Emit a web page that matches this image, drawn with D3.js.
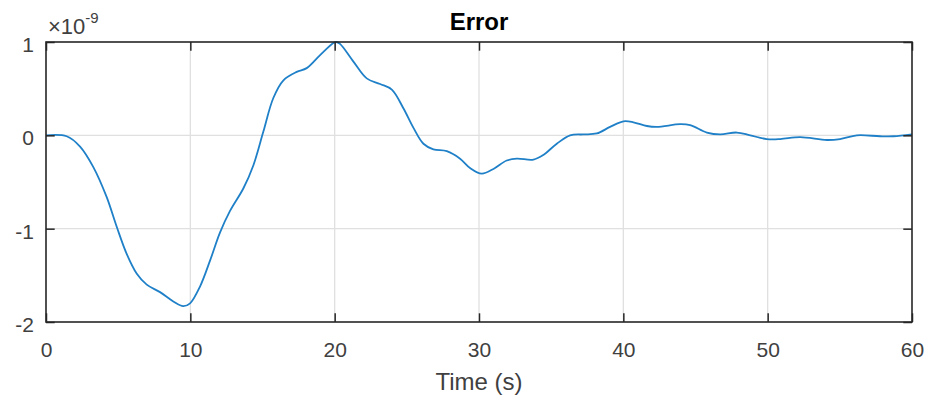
<!DOCTYPE html>
<html>
<head>
<meta charset="utf-8">
<script src="https://cdn.jsdelivr.net/npm/d3@7"></script>
<style>
    body { margin: 0; background: #fff; }
    text { font-family: "Liberation Sans", Arial, Helvetica, sans-serif; }
</style>
</head>
<body>
<div id="chart"></div>
<script>
// Error signal (values in units of 1e-9)
var time = [0, 1.43, 2.36, 3.28, 4.2, 4.9, 5.59, 6.28, 6.98, 7.9, 8.82, 9.51, 9.98, 10.67, 11.37,
    12.06, 12.75, 13.67, 14.37, 15.06, 15.75, 16.45, 17.37, 18.06, 18.99, 19.91, 20.1, 20.37, 21.3,
    22.22, 23.15, 23.96, 24.76, 25.46, 26.15, 26.84, 27.77, 28.69, 29.38, 30.19, 31.0, 31.92, 32.62,
    33.77, 34.46, 35.39, 36.31, 37.23, 38.16, 39.08, 40.01, 40.7, 41.63, 42.32, 43.94, 44.63, 45.79,
    46.71, 47.86, 48.79, 49.94, 50.87, 52.25, 54.1, 55.02, 56.18, 57.79, 58.72, 60];
var error = [0, -0.01, -0.12, -0.34, -0.66, -0.98, -1.27, -1.48, -1.60, -1.68, -1.78, -1.83, -1.80,
    -1.62, -1.34, -1.04, -0.81, -0.57, -0.32, 0.04, 0.40, 0.59, 0.68, 0.72, 0.86, 0.99, 1.0, 0.98,
    0.79, 0.61, 0.55, 0.49, 0.29, 0.08, -0.09, -0.15, -0.17, -0.25, -0.35, -0.41, -0.36, -0.27,
    -0.25, -0.26, -0.21, -0.09, 0.0, 0.01, 0.02, 0.09, 0.15, 0.14, 0.10, 0.09, 0.12, 0.11, 0.03,
    0.01, 0.03, 0.0, -0.04, -0.04, -0.02, -0.05, -0.04, 0.0, -0.01, -0.01, 0.01];

var xTicks = [0, 10, 20, 30, 40, 50, 60];
var yTicks = [-2, -1, 0, 1];

var titleText = "Error";
var xLabelText = "Time (s)";

var margin = { top: 42, right: 15, bottom: 77, left: 46 };
var width = 927 - margin.left - margin.right;
var height = 399 - margin.top - margin.bottom;
var tickLen = 8.7;
var axisColor = "#262626";

var svg = d3.select("#chart").append("svg")
    .attr("width", 927)
    .attr("height", 399)
    .append("g")
    .attr("transform", "translate(" + margin.left + "," + margin.top + ")");

// Scales
var x = d3.scaleLinear().domain([0, 60]).range([0, width]);
var y = d3.scaleLinear().domain([-2, 1]).range([height, 0]);

// Grid lines
svg.append("g").selectAll("line")
    .data(xTicks.slice(1, -1))
    .enter().append("line")
    .attr("x1", function(d) { return x(d); })
    .attr("x2", function(d) { return x(d); })
    .attr("y1", 0).attr("y2", height)
    .attr("stroke", "#e0e0e0").attr("stroke-width", 1.3);

svg.append("g").selectAll("line")
    .data(yTicks.slice(1, -1))
    .enter().append("line")
    .attr("y1", function(d) { return y(d); })
    .attr("y2", function(d) { return y(d); })
    .attr("x1", 0).attr("x2", width)
    .attr("stroke", "#e0e0e0").attr("stroke-width", 1.3);

// Data line
var line = d3.line()
    .x(function(d, i) { return x(time[i]); })
    .y(function(d) { return y(d); })
    .curve(d3.curveCatmullRom.alpha(0.5));

svg.append("path")
    .datum(error)
    .attr("d", line)
    .attr("fill", "none")
    .attr("stroke", "#1f80c8")
    .attr("stroke-width", 1.8);

// Axes (ticks point inward, like MATLAB); plain hyphen for negatives
var fmt = function(d) { return String(d); };
var xAxis = d3.axisBottom(x).tickValues(xTicks).tickFormat(fmt).tickSizeInner(-tickLen).tickSizeOuter(0).tickPadding(20);
var yAxis = d3.axisLeft(y).tickValues(yTicks).tickFormat(fmt).tickSizeInner(-tickLen).tickSizeOuter(0).tickPadding(12);

var gx = svg.append("g").attr("transform", "translate(0," + height + ")").call(xAxis);
var gy = svg.append("g").call(yAxis);
var gxTop = svg.append("g").call(d3.axisTop(x).tickValues(xTicks).tickSizeInner(-tickLen).tickSizeOuter(0).tickFormat(""));
var gyRight = svg.append("g").attr("transform", "translate(" + width + ",0)")
    .call(d3.axisRight(y).tickValues(yTicks).tickSizeInner(-tickLen).tickSizeOuter(0).tickFormat(""));

[gx, gy, gxTop, gyRight].forEach(function(g) {
    g.select(".domain").remove();
    g.selectAll(".tick line").attr("stroke", axisColor).attr("stroke-width", 1.5);
    g.selectAll(".tick text")
        .attr("fill", "#404040")
        .style("font-size", "21px")
        .style("font-family", "'Liberation Sans', Arial, sans-serif");
});
gy.selectAll(".tick text").attr("dy", "0.45em");

// Box
svg.append("rect")
    .attr("x", 0).attr("y", 0)
    .attr("width", width).attr("height", height)
    .attr("fill", "none")
    .attr("stroke", axisColor)
    .attr("stroke-width", 1.6);

// Exponent label
var expo = svg.append("text")
    .attr("x", 2).attr("y", -8)
    .attr("fill", "#404040")
    .style("font-size", "22px");
expo.append("tspan").text("\u00d710");
expo.append("tspan").attr("dy", -11).style("font-size", "15px").text("-9");

// Title
svg.append("text")
    .attr("x", width / 2).attr("y", -12)
    .attr("text-anchor", "middle")
    .attr("fill", "#000")
    .style("font-size", "24px")
    .style("font-weight", "bold")
    .text(titleText);

// X label
svg.append("text")
    .attr("x", width / 2).attr("y", height + 68)
    .attr("text-anchor", "middle")
    .attr("fill", "#404040")
    .style("font-size", "24px")
    .text(xLabelText);
</script>
</body>
</html>
